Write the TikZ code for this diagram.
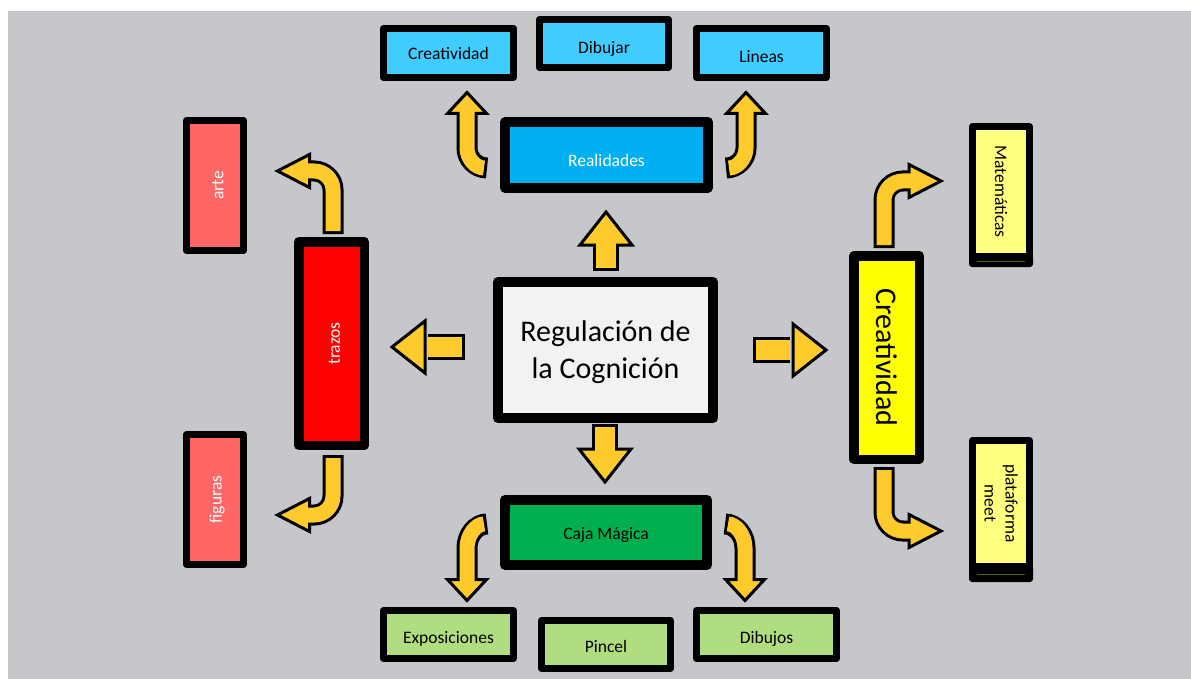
\documentclass[tikz,border=0pt]{standalone}
\usepackage{fontspec}
\setmainfont{Carlito}
\usetikzlibrary{calc}

\definecolor{bgc}{RGB}{198,199,203}
\definecolor{arrowy}{RGB}{255,202,44}
\definecolor{cyanl}{RGB}{64,204,255}
\definecolor{cyand}{RGB}{0,176,240}
\definecolor{redl}{RGB}{255,102,102}
\definecolor{redd}{RGB}{255,0,0}
\definecolor{yellowd}{RGB}{255,255,0}
\definecolor{yellowl}{RGB}{255,255,128}
\definecolor{greend}{RGB}{0,176,80}
\definecolor{greenl}{RGB}{176,221,128}
\definecolor{centerc}{RGB}{242,242,242}
\definecolor{olivec}{RGB}{95,95,0}

\newcommand\lowtxt[2]{\raisebox{-#1}[\height][\depth]{#2}}

\tikzset{
  smallbox/.style={draw=black, line width=7pt, line join=round, inner sep=0pt,
    align=center, font=\fontsize{17.5}{21}\selectfont},
  bigbox/.style={draw=black, line width=10pt, line join=round, inner sep=0pt,
    align=center, font=\fontsize{17.5}{21}\selectfont},
  bshaft/.style={draw=black, line width=#1, line cap=butt},
  yshaft/.style={draw=arrowy, line width=#1, line cap=butt, shorten <=3pt},
  headbig/.pic={\filldraw[fill=arrowy, draw=black, line width=3pt, line join=miter]
    (0,0) -- (-33,26) -- (-33,-26) -- cycle;},
  headsmall/.pic={\filldraw[fill=arrowy, draw=black, line width=3pt, line join=miter]
    (0,0) -- (-21,19.5) -- (-21,-19.5) -- cycle;},
  headlong/.pic={\filldraw[fill=arrowy, draw=black, line width=3pt, line join=miter]
    (0,0) -- (-32,16.5) -- (-32,-16.5) -- cycle;},
}

\begin{document}
\begin{tikzpicture}[x=1pt,y=-1pt]
\useasboundingbox (0,0) rectangle (1191,679);
\fill[bgc] (8,11) rectangle (1191,679);

% ---------- boxes ----------
\node[smallbox, fill=cyanl, minimum width=130pt, minimum height=49pt] (cre1) at (448.5,53) {Creatividad};
\node[smallbox, fill=cyanl, minimum width=129pt, minimum height=48pt] (dib) at (604,43.5) {\lowtxt{5pt}{Dibujar}};
\node[smallbox, fill=cyanl, minimum width=130pt, minimum height=49pt] (lin) at (761.5,53) {\lowtxt{4pt}{Lineas}};
\node[bigbox, line width=9.5pt, fill=cyand, text=white, minimum width=203pt, minimum height=66pt] (real) at (606.5,155) {\lowtxt{5pt}{Realidades}};
\node[bigbox, fill=centerc, minimum width=215pt, minimum height=136pt,
      font=\fontsize{30}{36.5}\selectfont] (reg) at (605.5,350)
      {\lowtxt{2.5pt}{\begin{tabular}{@{}c@{}}Regulación de\\la Cognición\end{tabular}}};
\node[bigbox, line width=9.5pt, fill=redd, text=white, rotate=90, minimum width=203.5pt, minimum height=65.5pt] (tra) at (331.5,343.5) {\lowtxt{3pt}{trazos}};
\node[smallbox, fill=redl, text=white, rotate=90, minimum width=130pt, minimum height=57pt] (arte) at (215,185.5) {\lowtxt{3pt}{arte}};
\node[smallbox, fill=redl, text=white, rotate=90, minimum width=130pt, minimum height=57pt] (fig) at (215,499.5) {\lowtxt{2pt}{figuras}};
\node[bigbox, line width=9.5pt, fill=yellowd, rotate=-90, minimum width=203.5pt, minimum height=65.5pt,
      font=\fontsize{30}{36}\selectfont] (crea) at (886.5,357.5) {Creatividad};
\node[smallbox, fill=yellowl, rotate=-90, minimum width=130pt, minimum height=57pt] (mat) at (1001,191.5) {Matemáticas};
\fill[black, rounded corners=3pt] (969,255) rectangle (1033,267);
\draw[olivec, line width=1pt] (977,261.5) -- (1025,261.5);
\node[smallbox, fill=yellowl, rotate=-90, minimum width=126pt, minimum height=57pt] (pla) at (1001,503.5) {plataforma\\meet};
\fill[black, rounded corners=3pt] (969,565) rectangle (1033,582);
\draw[olivec, line width=1pt] (977,574) -- (1025,574);
\node[bigbox, fill=greend, minimum width=202pt, minimum height=65pt] (caja) at (606,532.5) {\lowtxt{2pt}{Caja Mágica}};
\node[smallbox, fill=greenl, minimum width=130pt, minimum height=48pt] (exp) at (448.5,634.5) {\lowtxt{4.5pt}{Exposiciones}};
\node[smallbox, fill=greenl, minimum width=129pt, minimum height=48pt] (pin) at (606,644.5) {\lowtxt{2pt}{Pincel}};
\node[smallbox, fill=greenl, minimum width=140pt, minimum height=48pt] (dibu) at (766.5,634.5) {\lowtxt{4.5pt}{Dibujos}};

% ---------- straight arrows ----------
% reg -> real
\draw[bshaft=26pt] ($(reg)+(0.5,-79)$) -- ($(real)+(-0.5,87)$);
\pic[rotate=90] at ($(real)+(-0.5,57)$) {headbig};
\draw[yshaft=20pt] ($(reg)+(0.5,-79)$) -- ($(real)+(-0.5,87)$);
% reg -> trazos
\draw[bshaft=26pt] ($(reg)+(-140.5,-3)$) -- ($(tra)+(96.5,3.5)$);
\pic[rotate=180] at ($(tra)+(60.5,3.5)$) {headbig};
\draw[yshaft=20pt] ($(reg)+(-140.5,-3)$) -- ($(tra)+(96.5,3.5)$);
% reg -> creatividad
\draw[bshaft=26pt] ($(reg)+(147.5,0)$) -- ($(crea)+(-96.5,-7.5)$);
\pic at ($(crea)+(-60.5,-7.5)$) {headbig};
\draw[yshaft=20pt] ($(reg)+(147.5,0)$) -- ($(crea)+(-96.5,-7.5)$);
% reg -> caja
\draw[bshaft=26pt] ($(reg)+(-0.5,74)$) -- ($(caja)+(-1,-80.5)$);
\pic[rotate=-90] at ($(caja)+(-1,-50.5)$) {headbig};
\draw[yshaft=20pt] ($(reg)+(-0.5,74)$) -- ($(caja)+(-1,-80.5)$);

% ---------- curved arrows ----------
% real -> cre1
\draw[bshaft=21pt] ($(real)+(-119.5,13)$) .. controls (476,168) and (467,159) .. (467,148) -- ($(cre1)+(18.5,58)$);
\pic[rotate=90] at ($(cre1)+(18.5,39.5)$) {headsmall};
\draw[yshaft=15pt] ($(real)+(-119.5,13)$) .. controls (476,168) and (467,159) .. (467,148) -- ($(cre1)+(18.5,58)$);
% real -> lin
\draw[bshaft=21pt] ($(real)+(119.5,13)$) .. controls (737,168) and (746,159) .. (746,148) -- ($(lin)+(-15.5,58)$);
\pic[rotate=90] at ($(lin)+(-15.5,39.5)$) {headsmall};
\draw[yshaft=15pt] ($(real)+(119.5,13)$) .. controls (737,168) and (746,159) .. (746,148) -- ($(lin)+(-15.5,58)$);
% tra -> arte
\draw[bshaft=21pt] ($(tra)+(1.5,-109.5)$) -- (333,190) .. controls (333,179.5) and (324.5,171) .. (314,171) -- ($(arte)+(91,-14.5)$);
\pic[rotate=180] at ($(arte)+(62.5,-14.5)$) {headlong};
\draw[yshaft=15pt] ($(tra)+(1.5,-109.5)$) -- (333,190) .. controls (333,179.5) and (324.5,171) .. (314,171) -- ($(arte)+(91,-14.5)$);
% tra -> fig
\draw[bshaft=21pt] ($(tra)+(1.5,111.5)$) -- (333,496) .. controls (333,506.5) and (324.5,515) .. (314,515) -- ($(fig)+(91,15.5)$);
\pic[rotate=180] at ($(fig)+(62.5,15.5)$) {headlong};
\draw[yshaft=15pt] ($(tra)+(1.5,111.5)$) -- (333,496) .. controls (333,506.5) and (324.5,515) .. (314,515) -- ($(fig)+(91,15.5)$);
% crea -> mat
\draw[bshaft=21pt] ($(crea)+(-2.5,-109.5)$) -- (884,200) .. controls (884,189.5) and (892.5,181) .. (903,181) -- ($(mat)+(-89,-10.5)$);
\pic at ($(mat)+(-60,-10.5)$) {headlong};
\draw[yshaft=15pt] ($(crea)+(-2.5,-109.5)$) -- (884,200) .. controls (884,189.5) and (892.5,181) .. (903,181) -- ($(mat)+(-89,-10.5)$);
% crea -> pla
\draw[bshaft=21pt] ($(crea)+(-2.5,109.5)$) -- (884,512) .. controls (884,522.5) and (892.5,531) .. (903,531) -- ($(pla)+(-89,27.5)$);
\pic at ($(pla)+(-60,27.5)$) {headlong};
\draw[yshaft=15pt] ($(crea)+(-2.5,109.5)$) -- (884,512) .. controls (884,522.5) and (892.5,531) .. (903,531) -- ($(pla)+(-89,27.5)$);
% caja -> exp
\draw[bshaft=21pt] ($(caja)+(-119,-8.5)$) .. controls (476,524) and (467,535) .. (467,548) -- ($(exp)+(18.5,-52.5)$);
\pic[rotate=-90] at ($(exp)+(18.5,-34)$) {headsmall};
\draw[yshaft=15pt] ($(caja)+(-119,-8.5)$) .. controls (476,524) and (467,535) .. (467,548) -- ($(exp)+(18.5,-52.5)$);
% caja -> dibu
\draw[bshaft=21pt] ($(caja)+(119,-8.5)$) .. controls (736,524) and (745,535) .. (745,548) -- ($(dibu)+(-21.5,-52.5)$);
\pic[rotate=-90] at ($(dibu)+(-21.5,-34)$) {headsmall};
\draw[yshaft=15pt] ($(caja)+(119,-8.5)$) .. controls (736,524) and (745,535) .. (745,548) -- ($(dibu)+(-21.5,-52.5)$);
\end{tikzpicture}
\end{document}
